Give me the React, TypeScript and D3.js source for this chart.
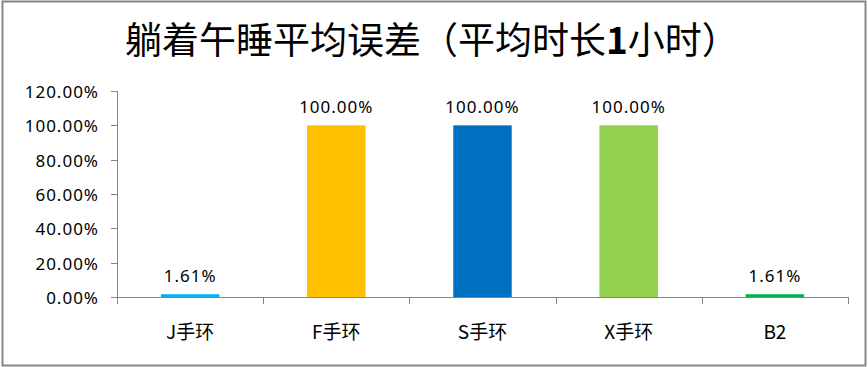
import { useEffect, useRef } from "react";
import * as d3 from "d3";

// chart data
const categories = ["J手环", "F手环", "S手环", "X手环", "B2"];
const errorValues = [0.0161, 1, 1, 1, 0.0161];
const barColors = ["#00B0F0", "#FFC000", "#0070C0", "#92D050", "#00B050"];
const yTicks = [0, 0.2, 0.4, 0.6, 0.8, 1.0, 1.2];
const titleParts = ["躺着午睡平均误差（平均时长", "1", "小时）"];

const W = 868;
const H = 367;

function App() {
    const ref = useRef<SVGSVGElement>(null);

    useEffect(() => {
        document.body.style.margin = "0";
        const svg = d3.select(ref.current);
        svg.selectAll("*").remove();

        const left = 117, right = 848, top = 91, bottom = 297;
        const fmt = (v: number) => (v * 100).toFixed(2) + "%";

        // outer frame
        svg.append("rect")
            .attr("x", 2.5).attr("y", 1.5)
            .attr("width", 863).attr("height", 364)
            .attr("fill", "white")
            .attr("stroke", "#868686")
            .attr("stroke-width", 2);

        const title = svg.append("text")
            .attr("x", 125).attr("y", 54)
            .attr("font-family", "'Noto Sans CJK SC'")
            .attr("font-size", 37)
            .attr("fill", "#000");
        titleParts.forEach((p, i) => {
            title.append("tspan")
                .attr("font-weight", i === 1 ? "bold" : "normal")
                .text(p);
        });

        const x = d3.scaleBand().domain(categories).range([left, right]).paddingInner(0).paddingOuter(0);
        const y = d3.scaleLinear().domain([0, 1.2]).range([bottom, top]);

        const g = svg.append("g");

        // y axis
        g.append("line")
            .attr("x1", left + 0.5).attr("x2", left + 0.5)
            .attr("y1", top).attr("y2", bottom)
            .attr("stroke", "#868686");
        yTicks.forEach((t) => {
            const yy = Math.round(y(t)) + 0.5;
            g.append("line")
                .attr("x1", left - 6).attr("x2", left)
                .attr("y1", yy).attr("y2", yy)
                .attr("stroke", "#868686");
            g.append("text")
                .attr("x", 99).attr("y", yy)
                .attr("text-anchor", "end")
                .attr("dominant-baseline", "central")
                .attr("font-family", "'Noto Sans'")
                .attr("font-size", 17)
                .attr("letter-spacing", 1)
                .attr("fill", "#000")
                .text(fmt(t));
        });

        // bars
        const bw = x.bandwidth() * 0.4;
        categories.forEach((c, i) => {
            const cx = x(c)! + x.bandwidth() / 2;
            g.append("rect")
                .attr("x", cx - bw / 2)
                .attr("y", y(errorValues[i]))
                .attr("width", bw)
                .attr("height", bottom - y(errorValues[i]))
                .attr("fill", barColors[i]);
            g.append("text")
                .attr("x", cx).attr("y", y(errorValues[i]) - 12)
                .attr("text-anchor", "middle")
                .attr("font-family", "'Noto Sans'")
                .attr("font-size", 17)
                .attr("letter-spacing", 1)
                .attr("fill", "#000")
                .text(fmt(errorValues[i]));
            g.append("text")
                .attr("x", cx).attr("y", 330)
                .attr("text-anchor", "middle")
                .attr("dominant-baseline", "central")
                .attr("font-family", "'Noto Sans CJK SC'")
                .attr("font-size", 19)
                .attr("fill", "#000")
                .text(c);
        });

        // x axis
        g.append("line")
            .attr("x1", left).attr("x2", right)
            .attr("y1", bottom + 0.5).attr("y2", bottom + 0.5)
            .attr("stroke", "#868686");
        const bounds = categories.map((c) => x(c)!).concat([right]);
        bounds.forEach((bx) => {
            const xx = Math.round(bx) + 0.5;
            g.append("line")
                .attr("x1", xx).attr("x2", xx)
                .attr("y1", bottom).attr("y2", bottom + 7)
                .attr("stroke", "#868686");
        });
    }, []);

    return <svg ref={ref} width={W} height={H} style={{ display: "block" }}></svg>;
}

export default App;
